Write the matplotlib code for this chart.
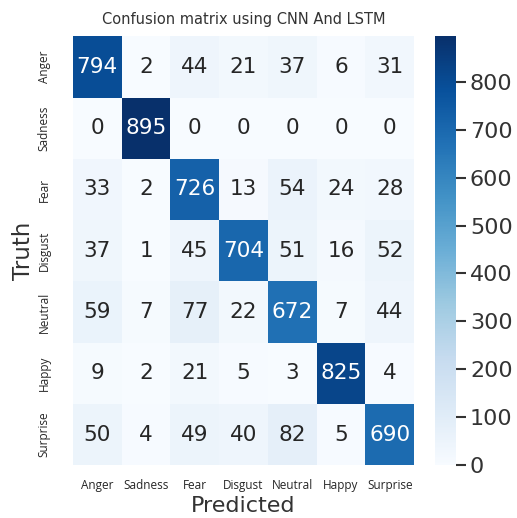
import numpy as np
import matplotlib
matplotlib.use("Agg")
import matplotlib.pyplot as plt
import seaborn as sns

labels = ["Anger", "Sadness", "Fear", "Disgust", "Neutral", "Happy", "Surprise"]
cm = np.array([
    [794, 2, 44, 21, 37, 6, 31],
    [0, 895, 0, 0, 0, 0, 0],
    [33, 2, 726, 13, 54, 24, 28],
    [37, 1, 45, 704, 51, 16, 52],
    [59, 7, 77, 22, 672, 7, 44],
    [9, 2, 21, 5, 3, 825, 4],
    [50, 4, 49, 40, 82, 5, 690],
])

sns.set_theme(style="white")
plt.rcParams['font.family'] = ['DejaVu Sans']

fig = plt.figure(figsize=(5.17, 5.18), dpi=100)
ax = fig.add_axes([0.141, 0.102, 0.660, 0.828])
cax = fig.add_axes([0.841, 0.102, 0.041, 0.828])

sns.heatmap(cm, annot=True, fmt="d", cmap="Blues", ax=ax, cbar_ax=cax,
            xticklabels=labels, yticklabels=labels,
            annot_kws={"fontsize": 15.5})

ax.set_title("Confusion matrix using CNN And LSTM", fontsize=10.5, color="#333333", pad=9)
ax.set_xlabel("Predicted", fontsize=16, color="#333333", labelpad=3)
ax.set_ylabel("Truth", fontsize=16.5, color="#333333", labelpad=2)
for t in ax.get_xticklabels():
    t.set_fontfamily("Open Sans")
    t.set_fontsize(8.5)
    t.set_rotation(0)
for t in ax.get_yticklabels():
    t.set_fontfamily("Open Sans")
    t.set_fontsize(8.5)
    t.set_rotation(90)
    t.set_va("center")
ax.tick_params(axis="x", length=0, pad=10)
ax.tick_params(axis="y", length=0, pad=16)

cax.tick_params(labelsize=16, length=7, width=1.5, color="#333333", labelcolor="#333333", pad=3)
cax.set_yticks(range(0, 801, 100))
for s in cax.spines.values():
    s.set_visible(False)

fig.savefig("out.png", dpi=100)
